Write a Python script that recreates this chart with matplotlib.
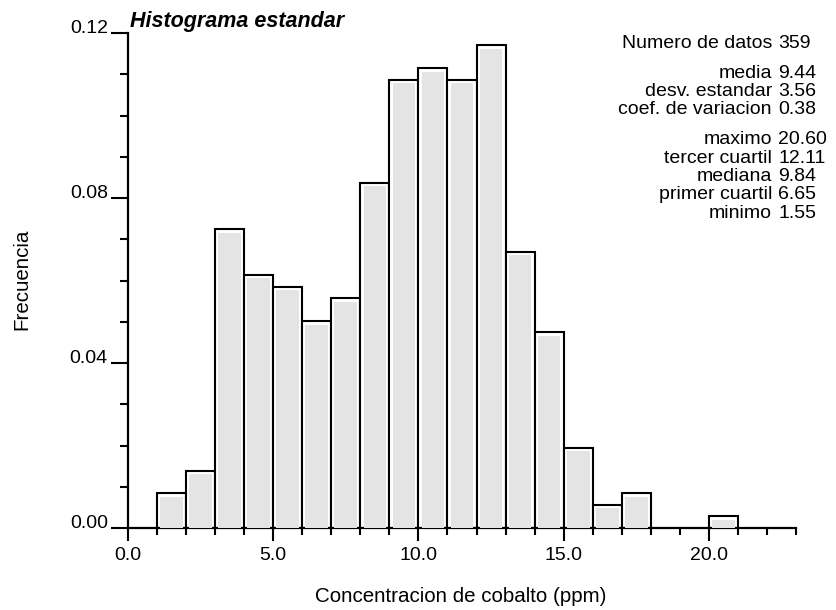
import matplotlib
matplotlib.use("Agg")
import matplotlib.pyplot as plt
from matplotlib.ticker import MultipleLocator, FixedLocator

plt.rcParams['font.family'] = ['Liberation Sans', 'DejaVu Sans']

# histogram (bins of width 1 ppm)
bin_left = [1, 2, 3, 4, 5, 6, 7, 8, 9, 10, 11, 12, 13, 14, 15, 16, 17, 20]
frecuencia = [0.0084, 0.0139, 0.0724, 0.0613, 0.0585, 0.0501, 0.0557, 0.0836,
              0.1086, 0.1114, 0.1086, 0.1170, 0.0669, 0.0474, 0.0195, 0.0056,
              0.0084, 0.0028]

stat_names = ["Numero de datos", "media", "desv. estandar", "coef. de variacion",
              "maximo", "tercer cuartil", "mediana", "primer cuartil", "minimo"]
stat_values = ["359", "9.44", "3.56", "0.38", "20.60", "12.11", "9.84", "6.65", "1.55"]

fig = plt.figure(figsize=(8.36, 6.10), dpi=100)
ax = fig.add_axes([128 / 836, 1 - 528 / 610, (796 - 128) / 836, (528 - 33) / 610])

centers = [b + 0.5 for b in bin_left]
# outline with a thin white gap, then the grey fill inside
ax.bar(centers, frecuencia, width=1.0, color='white', edgecolor='black',
       linewidth=1.5, zorder=2)
ax.bar(centers, [f - 0.0008 for f in frecuencia], width=0.78, color='#e4e4e4',
       linewidth=0, zorder=3)

ax.set_xlim(0, 23)
ax.set_ylim(0, 0.12)
for s in ['top', 'right']:
    ax.spines[s].set_visible(False)
for s in ['left', 'bottom']:
    ax.spines[s].set_linewidth(1.6)

ax.set_xticks([0, 5, 10, 15, 20])
ax.set_xticklabels(['0.0', '5.0', '10.0', '15.0', '20.0'])
ax.xaxis.set_minor_locator(FixedLocator(range(0, 24)))
ax.set_yticks([0, 0.04, 0.08, 0.12])
ax.set_yticklabels(['0.00', '0.04', '0.08', '0.12'])
ax.yaxis.set_minor_locator(MultipleLocator(0.01))

ax.tick_params(axis='x', which='major', length=9, width=1.5, labelsize=14, pad=5)
ax.tick_params(axis='x', which='minor', length=5, width=1.5)
ax.tick_params(axis='y', which='major', length=12.5, width=1.5, labelsize=14, pad=2)
ax.tick_params(axis='y', which='minor', length=6, width=1.5)
for lab in ax.get_yticklabels():
    lab.set_va('baseline')

fig.text(130 / 836, 1 - 27 / 610, "Histograma estandar", fontsize=15.5,
         fontweight='bold', fontstyle='italic', ha='left', va='baseline')
fig.text(461 / 836, 1 - 597 / 610, "Concentracion de cobalto (ppm)",
         fontsize=14.8, ha='center', va='center')
fig.text(22 / 836, 1 - 279 / 610, "Frecuencia", fontsize=14.8,
         rotation=90, ha='center', va='center')

y = 43.3
for i, (name, val) in enumerate(zip(stat_names, stat_values)):
    if i in (1, 4):
        y += 11.7
    fig.text(772 / 836, 1 - y / 610, name, fontsize=14, ha='right', va='center')
    fig.text(778 / 836, 1 - y / 610, val, fontsize=14, ha='left', va='center')
    y += 18.3

fig.savefig("out.png", dpi=100)
